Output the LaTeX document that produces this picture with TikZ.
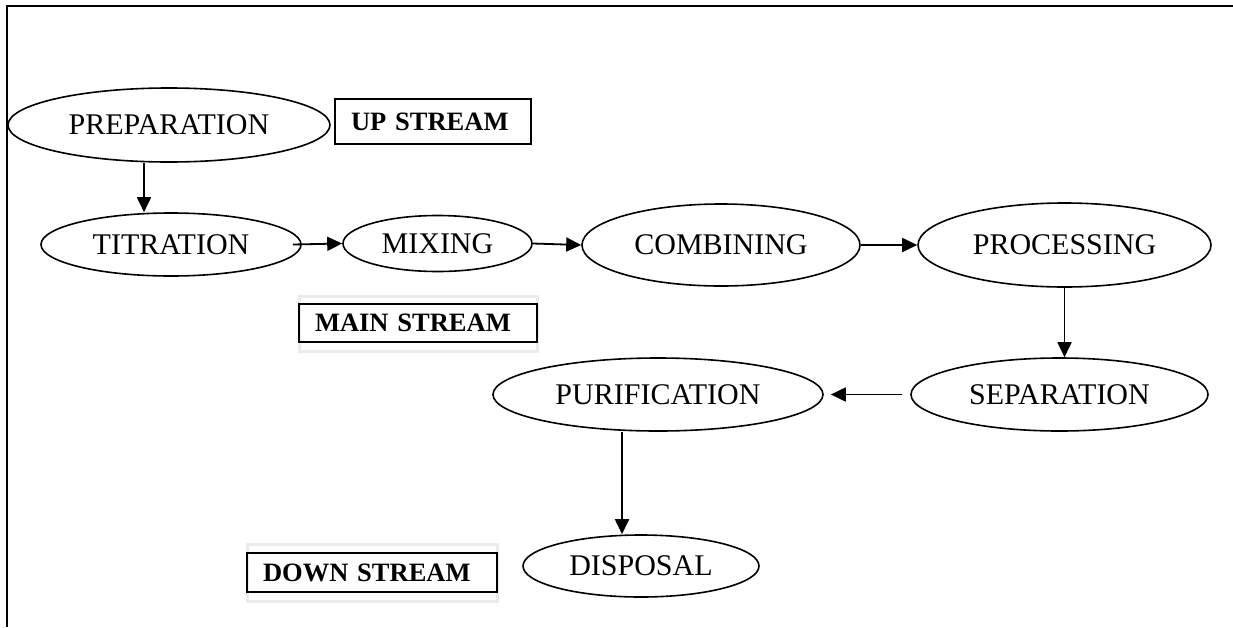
\documentclass[tikz,border=0pt]{standalone}
\usepackage{fontspec}
\setmainfont{Liberation Serif}
\usetikzlibrary{shapes.geometric,arrows.meta}
\begin{document}
\begin{tikzpicture}[x=1pt,y=-1pt,
  stage/.style={ellipse,draw,line width=1.6pt,inner sep=0pt,
    font=\fontsize{30}{36}\selectfont},
  flow/.style={line width=1.8pt,-{Triangle[length=15pt,width=14pt]}},
  tag/.style={rectangle,draw,line width=2pt,inner xsep=16pt,inner ysep=0pt,
    align=left,font=\fontsize{26.5}{32}\selectfont\bfseries},
  halo/.style={rectangle,draw=black!8,line width=3pt,inner sep=0pt}]
\useasboundingbox (0,0) rectangle (1233,627);
% page frame: top and left rules only
\draw[line width=2.2pt] (7,627) -- (7,6) -- (1233,6);

% process stages
\node[stage,minimum width=322pt,minimum height=74pt] (prep) at (169,125) {PREPARATION};
\node[stage,minimum width=260pt,minimum height=63pt] (titr) at (171,244.5) {TITRATION};
\node[stage,minimum width=189pt,minimum height=56pt] (mix) at (437.5,243.5) {MIXING};
\node[stage,minimum width=278pt,minimum height=82pt] (comb) at (721,245) {COMBINING};
\node[stage,minimum width=293pt,minimum height=84pt] (proc) at (1064.5,245) {PROCESSING};
\node[stage,minimum width=297pt,minimum height=73pt] (sep) at (1059.5,394.5) {SEPARATION};
\node[stage,minimum width=330pt,minimum height=73pt] (pur) at (658,394.5) {PURIFICATION};
\node[stage,minimum width=236pt,minimum height=62pt] (disp) at (641,566) {DISPOSAL};

% stream labels
\node[tag,text width=164pt,minimum height=45pt] (up) at (433,121.5) {UP STREAM};
\node[halo,minimum width=238pt,minimum height=55pt] (mainhalo) at (418.5,324) {};
\node[tag,text width=206pt,minimum height=38pt] (main) at (418,323) {MAIN STREAM};
\node[halo,minimum width=250pt,minimum height=57pt] (downhalo) at (372.5,573) {};
\node[tag,text width=218pt,minimum height=39pt] (down) at (372,572.5) {DOWN STREAM};

% connectors
\coordinate (xa) at (144,0);
\coordinate (xb) at (622,0);
\draw[flow] (prep.south -| xa) -- (titr.north -| xa);
\draw[flow] ([xshift=-9pt]titr.east) -- (mix.west);
\draw[flow] (mix.east) -- (comb.west);
\draw[flow] (comb.east) -- (proc.west);
\draw[flow] (proc.south) -- (proc.south |- sep.north);
\draw[flow] ([xshift=-8pt]sep.west) -- ([xshift=7pt]pur.east);
\draw[flow] (pur.south -| xb) -- (disp.north -| xb);
\end{tikzpicture}
\end{document}
